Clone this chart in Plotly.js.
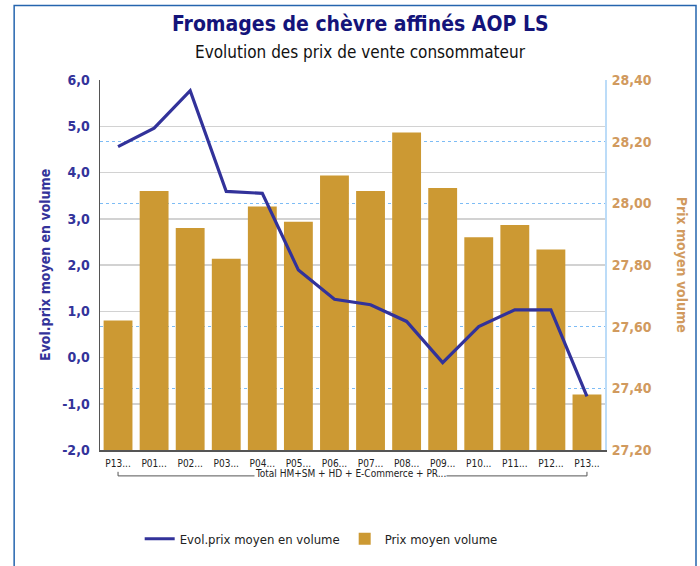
<!DOCTYPE html>
<html>
<head>
<meta charset="utf-8">
<script src="https://cdn.plot.ly/plotly-3.0.1.min.js"></script>
<style>html,body{margin:0;padding:0;background:#fff;}#chart{width:700px;height:566px;}</style>
</head>
<body>
<div id="chart"></div>
<script>
// ---- data ----
const periodLabels = ["P13...", "P01...", "P02...", "P03...", "P04...", "P05...", "P06...", "P07...", "P08...", "P09...", "P10...", "P11...", "P12...", "P13..."];
const groupLabel = "Total HM+SM + HD + E-Commerce + PR...";
const evolPrix = [4.56, 4.96, 5.77, 3.59, 3.55, 1.89, 1.26, 1.14, 0.78, -0.11, 0.67, 1.03, 1.03, -0.84];
const prixMoyen = [27.62, 28.04, 27.92, 27.82, 27.99, 27.94, 28.09, 28.04, 28.23, 28.05, 27.89, 27.93, 27.85, 27.38];
const leftTicks = [-2, -1, 0, 1, 2, 3, 4, 5, 6];
const leftTickText = ["-2,0", "-1,0", "0,0", "1,0", "2,0", "3,0", "4,0", "5,0", "6,0"];
const rightTicks = [27.2, 27.4, 27.6, 27.8, 28.0, 28.2, 28.4];
const rightTickText = ["27,20", "27,40", "27,60", "27,80", "28,00", "28,20", "28,40"];

const idx = periodLabels.map((_, i) => i);
const FONT = "DejaVu Sans Condensed, DejaVu Sans, sans-serif";
const BLUE = "#33339a";
const TAN = "#d19a5e";

const traces = [
  {
    type: "scatter", mode: "lines", name: "Evol.prix moyen en volume",
    x: idx, y: evolPrix, xaxis: "x", yaxis: "y2",
    line: {color: "#32329a", width: 3.2}
  },
  {
    type: "bar", name: "Prix moyen volume",
    x: idx, y: prixMoyen, base: 0, xaxis: "x", yaxis: "y",
    marker: {color: "#cc9933"}
  }
];

const layout = {
  width: 700, height: 566,
  margin: {l: 100, r: 95, t: 80, b: 114},
  paper_bgcolor: "#ffffff", plot_bgcolor: "#ffffff",
  separators: ", ",
  showlegend: true,
  bargap: 0.2,
  font: {family: FONT, color: "#222"},
  legend: {orientation: "h", x: 0.438, xanchor: "center", y: -0.24, yanchor: "middle",
           font: {family: FONT, size: 13, color: "#222"}, traceorder: "normal", itemwidth: 30},
  xaxis: {
    range: [-0.5, 13.5], tickmode: "array", tickvals: idx, ticktext: periodLabels,
    tickfont: {family: FONT, size: 10, color: "#222"}, tickangle: 0, ticklabelstandoff: 3,
    showline: true, linecolor: "#555", linewidth: 1.5, showgrid: false, ticks: "", zeroline: false
  },
  yaxis: {
    side: "right", range: [27.2, 28.4], tickmode: "array", tickvals: rightTicks, ticktext: rightTickText,
    tickfont: {family: FONT, size: 14, color: TAN, weight: "bold"},
    showgrid: true, gridcolor: "#7dbcf5", griddash: "dot", gridwidth: 1,
    showline: true, linecolor: "#bcdcf8", linewidth: 2, zeroline: false, ticks: "", ticklabelstandoff: 2
  },
  yaxis2: {
    overlaying: "y", side: "left", range: [-2, 6], tickmode: "array", tickvals: leftTicks, ticktext: leftTickText,
    tickfont: {family: FONT, size: 14, color: BLUE, weight: "bold"},
    showgrid: true, gridcolor: "#d2d2d2", gridwidth: 1.5,
    showline: true, linecolor: "#555", linewidth: 1.5, zeroline: false, ticks: "", ticklabelstandoff: 6
  },
  shapes: [
    {type: "rect", xref: "paper", yref: "paper", x0: -0.170, x1: 1.1802, y0: -0.5, y1: 1.2016,
     line: {color: "#2565ae", width: 1.5}, fillcolor: "rgba(0,0,0,0)", layer: "below"},
    {type: "path", xref: "x", yref: "paper",
     path: "M 0,-0.059 L 0,-0.070 L 13,-0.070 L 13,-0.059",
     line: {color: "#555", width: 1}}
  ],
  annotations: [
    {text: "<b>Fromages de chèvre affinés AOP LS</b>", xref: "paper", yref: "paper",
     x: 0.515, y: 1.151, xanchor: "center", yanchor: "middle", showarrow: false,
     font: {family: FONT, size: 21, color: "#14147a"}},
    {text: "Evolution des prix de vente consommateur", xref: "paper", yref: "paper",
     x: 0.515, y: 1.075, xanchor: "center", yanchor: "middle", showarrow: false,
     font: {family: FONT, size: 17, color: "#111"}},
    {text: "<b>Evol.prix moyen en volume</b>", xref: "paper", yref: "paper",
     x: -0.109, y: 0.5, xanchor: "center", yanchor: "middle", textangle: -90, showarrow: false,
     font: {family: FONT, size: 14, color: BLUE}},
    {text: "<b>Prix moyen volume</b>", xref: "paper", yref: "paper",
     x: 1.153, y: 0.5, xanchor: "center", yanchor: "middle", textangle: 90, showarrow: false,
     font: {family: FONT, size: 14, color: TAN}},
    {text: groupLabel, xref: "x", yref: "paper", x: 6.45, y: -0.0645, xanchor: "center", yanchor: "middle",
     showarrow: false, bgcolor: "#ffffff", borderpad: 0,
     font: {family: FONT, size: 10, color: "#222"}}
  ]
};

Plotly.newPlot("chart", traces, layout, {displayModeBar: false, staticPlot: true});
</script>
</body>
</html>
